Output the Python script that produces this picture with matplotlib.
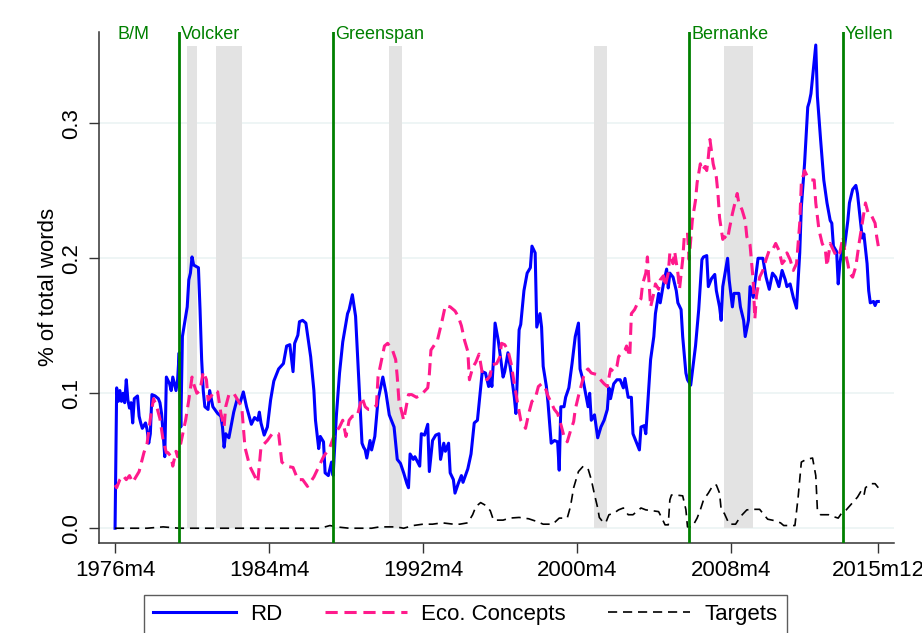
import matplotlib
matplotlib.use("Agg")
import matplotlib.pyplot as plt

plt.rcParams["font.family"] = ["Liberation Sans", "DejaVu Sans"]

# months since 1976m4
rd_t = [0, 1, 2, 3, 4, 5, 6, 7, 8, 9, 10, 11, 12, 14, 15, 16, 17, 19, 20, 21, 22, 23, 25, 27, 28, 29, 30, 31, 32, 34,
        35, 36, 38, 39, 40, 41, 42, 45, 46, 47, 48, 49, 52, 53, 54, 55, 56, 58, 59, 61, 64, 66, 67, 68, 69, 71, 74,
        76, 78, 80, 82, 85, 87, 89, 90, 91, 93, 95, 97, 99, 102, 105, 107, 109, 111, 112, 114, 115, 117, 119, 122,
        124, 125, 127, 128, 130, 131, 133, 135, 136, 138, 140, 142, 145, 146, 148, 150, 152, 154, 155, 156, 157, 159,
        160, 162, 164, 167, 169, 171, 174, 176, 178, 180, 182, 183, 184, 186, 187, 190, 191, 193, 195, 196, 198, 200,
        202, 203, 205, 206, 208, 209, 211, 212, 214, 216, 217, 220, 222, 224, 226, 229, 231, 233, 234, 235, 236, 237,
        239, 240, 242, 243, 245, 247, 249, 250, 252, 253, 255, 257, 259, 260, 262, 263, 265, 266, 267, 269, 270, 272,
        274, 276, 277, 278, 280, 281, 283, 285, 287, 289, 290, 292, 295, 296, 297, 299, 301, 303, 305, 307, 308, 309,
        311, 313, 315, 317, 318, 320, 322, 323, 325, 327, 328, 330, 331, 332, 334, 336, 337, 339, 340, 342, 344, 345,
        346, 348, 350, 351, 353, 354, 356, 357, 359, 362, 364, 366, 367, 369, 370, 372, 374, 375, 377, 378, 379, 382,
        383, 385, 386, 389, 390, 392, 393, 395, 396, 398, 399, 401, 404, 406, 408, 410, 412, 414, 416, 418, 419, 421,
        423, 425, 427, 428, 430, 432, 433, 434, 437, 438, 440, 442, 444, 446, 447, 448, 450, 451, 452, 454, 455, 457,
        458, 460, 462, 463, 465, 466, 467, 469, 470, 471, 473, 474, 475, 476]
rd_v = [0.000, 0.104, 0.094, 0.102, 0.094, 0.100, 0.093, 0.110, 0.095, 0.089, 0.093, 0.078, 0.096, 0.098, 0.083,
        0.078, 0.074, 0.078, 0.073, 0.063, 0.070, 0.099, 0.098, 0.096, 0.093, 0.085, 0.070, 0.053, 0.112, 0.107,
        0.102, 0.112, 0.102, 0.110, 0.130, 0.075, 0.142, 0.164, 0.184, 0.189, 0.201, 0.195, 0.193, 0.162, 0.125,
        0.102, 0.090, 0.088, 0.102, 0.090, 0.085, 0.083, 0.075, 0.060, 0.070, 0.067, 0.086, 0.095, 0.093, 0.101,
        0.090, 0.077, 0.082, 0.080, 0.086, 0.078, 0.069, 0.075, 0.095, 0.109, 0.118, 0.122, 0.135, 0.136, 0.116,
        0.137, 0.143, 0.153, 0.154, 0.152, 0.127, 0.102, 0.080, 0.059, 0.068, 0.064, 0.041, 0.039, 0.049, 0.039,
        0.083, 0.115, 0.138, 0.159, 0.162, 0.173, 0.157, 0.110, 0.063, 0.060, 0.058, 0.052, 0.065, 0.058, 0.068,
        0.095, 0.112, 0.100, 0.084, 0.075, 0.051, 0.048, 0.041, 0.033, 0.030, 0.055, 0.051, 0.053, 0.046, 0.070,
        0.069, 0.077, 0.042, 0.065, 0.069, 0.070, 0.051, 0.063, 0.057, 0.063, 0.041, 0.036, 0.026, 0.033, 0.039,
        0.034, 0.044, 0.055, 0.078, 0.080, 0.116, 0.115, 0.105, 0.115, 0.105, 0.125, 0.152, 0.139, 0.130, 0.112,
        0.116, 0.130, 0.115, 0.097, 0.085, 0.147, 0.151, 0.176, 0.189, 0.193, 0.209, 0.204, 0.149, 0.159, 0.149,
        0.120, 0.105, 0.093, 0.063, 0.065, 0.064, 0.043, 0.090, 0.090, 0.097, 0.104, 0.122, 0.142, 0.152, 0.118,
        0.109, 0.090, 0.100, 0.080, 0.084, 0.067, 0.075, 0.080, 0.088, 0.104, 0.096, 0.107, 0.110, 0.110, 0.104,
        0.111, 0.097, 0.097, 0.070, 0.064, 0.058, 0.075, 0.076, 0.070, 0.088, 0.125, 0.142, 0.159, 0.174, 0.167,
        0.181, 0.192, 0.178, 0.189, 0.186, 0.176, 0.167, 0.162, 0.142, 0.115, 0.110, 0.106, 0.135, 0.162, 0.199,
        0.201, 0.202, 0.179, 0.185, 0.188, 0.176, 0.164, 0.154, 0.179, 0.200, 0.184, 0.164, 0.174, 0.174, 0.164,
        0.154, 0.142, 0.154, 0.179, 0.171, 0.181, 0.200, 0.200, 0.186, 0.177, 0.189, 0.186, 0.179, 0.191, 0.184,
        0.179, 0.181, 0.171, 0.163, 0.204, 0.238, 0.270, 0.312, 0.316, 0.322, 0.358, 0.320, 0.288, 0.258, 0.241,
        0.228, 0.226, 0.209, 0.205, 0.181, 0.196, 0.211, 0.209, 0.228, 0.241, 0.251, 0.254, 0.248, 0.226, 0.215,
        0.218, 0.196, 0.176, 0.167, 0.168, 0.165, 0.168, 0.168]

eco_t = [0, 1, 3, 5, 7, 9, 11, 13, 15, 18, 20, 22, 24, 26, 28, 30, 32, 33, 35, 36, 38, 39, 41, 44, 46, 48, 49, 51, 53,
         55, 57, 58, 60, 62, 64, 66, 68, 69, 71, 74, 79, 81, 84, 89, 91, 95, 98, 102, 104, 107, 111, 114, 117, 120,
         124, 126, 130, 134, 137, 140, 142, 144, 146, 148, 151, 154, 156, 158, 160, 163, 164, 168, 170, 173, 175,
         176, 177, 180, 183, 185, 188, 191, 195, 196, 197, 201, 204, 206, 209, 212, 214, 216, 218, 220, 221, 223,
         225, 227, 229, 232, 234, 235, 238, 240, 241, 243, 245, 247, 249, 251, 253, 256, 258, 260, 262, 264, 266,
         268, 270, 272, 274, 276, 278, 280, 282, 284, 286, 287, 289, 291, 293, 295, 297, 300, 302, 305, 307, 309,
         311, 313, 314, 316, 318, 319, 321, 322, 324, 326, 328, 329, 331, 332, 334, 336, 337, 339, 340, 342, 343,
         345, 346, 348, 349, 351, 352, 354, 355, 357, 358, 360, 362, 363, 365, 366, 368, 369, 370, 371, 373, 375,
         376, 377, 379, 380, 382, 383, 385, 388, 389, 391, 393, 394, 396, 398, 399, 400, 402, 404, 406, 408, 410,
         412, 414, 416, 418, 419, 421, 423, 425, 427, 428, 430, 432, 434, 436, 437, 439, 441, 443, 444, 446, 448,
         450, 452, 454, 455, 457, 458, 460, 462, 464, 466, 468, 470, 472, 474, 475, 476]
eco_v = [0.032, 0.030, 0.036, 0.039, 0.036, 0.039, 0.034, 0.038, 0.042, 0.056, 0.063, 0.081, 0.096, 0.090, 0.081,
         0.065, 0.056, 0.056, 0.053, 0.046, 0.057, 0.053, 0.063, 0.080, 0.095, 0.112, 0.107, 0.100, 0.102, 0.116,
         0.110, 0.095, 0.098, 0.102, 0.101, 0.085, 0.075, 0.090, 0.099, 0.100, 0.090, 0.060, 0.046, 0.034, 0.060,
         0.065, 0.070, 0.070, 0.049, 0.046, 0.045, 0.036, 0.036, 0.031, 0.038, 0.043, 0.053, 0.060, 0.070, 0.075,
         0.080, 0.068, 0.080, 0.083, 0.083, 0.097, 0.090, 0.088, 0.088, 0.091, 0.112, 0.135, 0.137, 0.132, 0.125,
         0.112, 0.095, 0.080, 0.099, 0.099, 0.097, 0.099, 0.104, 0.114, 0.132, 0.139, 0.154, 0.165, 0.164, 0.161,
         0.157, 0.150, 0.139, 0.131, 0.110, 0.119, 0.123, 0.129, 0.115, 0.110, 0.113, 0.121, 0.122, 0.127, 0.137,
         0.136, 0.132, 0.122, 0.107, 0.093, 0.080, 0.074, 0.085, 0.094, 0.096, 0.105, 0.107, 0.105, 0.098, 0.093,
         0.088, 0.085, 0.077, 0.068, 0.064, 0.072, 0.079, 0.088, 0.098, 0.107, 0.116, 0.118, 0.115, 0.114, 0.111,
         0.107, 0.105, 0.118, 0.116, 0.120, 0.127, 0.130, 0.132, 0.135, 0.127, 0.159, 0.162, 0.167, 0.170, 0.181,
         0.189, 0.201, 0.164, 0.174, 0.181, 0.177, 0.184, 0.187, 0.179, 0.189, 0.204, 0.196, 0.205, 0.189, 0.177,
         0.199, 0.216, 0.219, 0.199, 0.228, 0.243, 0.256, 0.270, 0.265, 0.268, 0.265, 0.275, 0.288, 0.270, 0.260,
         0.248, 0.230, 0.214, 0.216, 0.214, 0.221, 0.233, 0.248, 0.241, 0.236, 0.228, 0.216, 0.210, 0.183, 0.155,
         0.172, 0.186, 0.191, 0.199, 0.206, 0.206, 0.211, 0.206, 0.196, 0.199, 0.204, 0.199, 0.191, 0.196, 0.226,
         0.256, 0.265, 0.260, 0.258, 0.258, 0.241, 0.221, 0.211, 0.206, 0.194, 0.211, 0.206, 0.201, 0.204, 0.216,
         0.206, 0.196, 0.189, 0.186, 0.194, 0.211, 0.226, 0.241, 0.232, 0.231, 0.226, 0.216, 0.209]

tgt_t = [0, 20, 30, 40, 60, 80, 100, 120, 128, 134, 138, 146, 160, 165, 175, 180, 186, 192, 198, 204, 211, 215, 220,
         223, 225, 228, 231, 234, 236, 242, 246, 252, 258, 263, 267, 273, 277, 282, 284, 286, 289, 292, 295, 297,
         299, 301, 302, 304, 306, 308, 311, 314, 317, 320, 323, 328, 331, 335, 339, 341, 343, 345, 346, 347, 350,
         354, 356, 357, 360, 363, 365, 367, 370, 373, 375, 377, 378, 380, 383, 387, 390, 394, 398, 402, 404, 407,
         411, 415, 417, 420, 424, 426, 428, 431, 435, 437, 438, 440, 445, 448, 451, 453, 456, 460, 463, 465, 467,
         468, 471, 474, 476]
tgt_v = [0.0, 0.0, 0.001, 0.0, 0.0, 0.0, 0.0, 0.0, 0.0, 0.002, 0.001, 0.0, 0.0, 0.001, 0.001, 0.0, 0.002, 0.003,
         0.003, 0.004, 0.003, 0.003, 0.004, 0.010, 0.016, 0.019, 0.017, 0.013, 0.006, 0.006, 0.0075, 0.008, 0.007,
         0.005, 0.003, 0.003, 0.0075, 0.0075, 0.016, 0.030, 0.042, 0.046, 0.044, 0.036, 0.025, 0.015, 0.008, 0.005,
         0.004, 0.010, 0.011, 0.0136, 0.015, 0.010, 0.010, 0.015, 0.0136, 0.013, 0.0123, 0.0075, 0.0025, 0.0025,
         0.021, 0.0246, 0.0246, 0.024, 0.0138, 0.001, 0.001, 0.0075, 0.0136, 0.021, 0.026, 0.032, 0.032, 0.026,
         0.0138, 0.0109, 0.003, 0.003, 0.0086, 0.0136, 0.014, 0.014, 0.011, 0.0067, 0.0057, 0.004, 0.002, 0.002,
         0.002, 0.023, 0.049, 0.051, 0.052, 0.039, 0.0138, 0.010, 0.010, 0.0086, 0.0075, 0.011, 0.0136, 0.019,
         0.023, 0.027, 0.024, 0.030, 0.033, 0.033, 0.030]

# NBER recessions (start, end), months since 1976m4
rec_start = [45, 63, 171, 299, 380]
rec_end = [51, 79, 179, 307, 398]
rec_top = 0.357

chairs = ["B/M", "Volcker", "Greenspan", "Bernanke", "Yellen"]
chair_t = [0, 40, 136, 358, 454]
chair_line = [False, True, True, True, True]

xtick_t = [0, 96, 192, 288, 384, 476]
xtick_lab = ["1976m4", "1984m4", "1992m4", "2000m4", "2008m4", "2015m12"]
yticks = [0.0, 0.1, 0.2, 0.3]

fig = plt.figure(figsize=(9.22, 6.33), dpi=100)
ax = fig.add_axes([0.1074, 0.1427, 0.8626, 0.8073])

for y in yticks:
    ax.axhline(y, color="#eaf2f3", lw=1.1, zorder=0)

for s, e in zip(rec_start, rec_end):
    ax.fill_between([s, e], 0, rec_top, color="#e3e3e3", lw=0, zorder=1)

l1, = ax.plot(rd_t, rd_v, color="#0000ff", lw=2.2, zorder=3)
l2, = ax.plot(eco_t, eco_v, color="#ff1a8c", lw=2.2, dashes=(4, 2.2), zorder=3)
l3, = ax.plot(tgt_t, tgt_v, color="black", lw=1.2, dashes=(5.5, 3.5), zorder=4)

for name, t, has_line in zip(chairs, chair_t, chair_line):
    if has_line:
        ax.axvline(t, color="#008000", lw=2.0, zorder=5)
    ax.annotate(name, xy=(t, 1), xycoords=("data", "axes fraction"), xytext=(2, -7.5),
                textcoords="offset pixels", color="#008000", fontsize=13, ha="left", va="baseline")

ax.set_xlim(-10, 486)
ax.set_ylim(-0.0107, 0.3679)
ax.set_xticks(xtick_t)
ax.set_xticklabels(xtick_lab)
ax.set_yticks(yticks)
ax.set_yticklabels(["%.1f" % y for y in yticks], rotation=90, va="center")
ax.tick_params(axis="both", labelsize=16, length=7.5, width=1.0, color="#333333", pad=5)
ax.set_ylabel("% of total words", fontsize=16, labelpad=1.5)

for side in ["top", "right"]:
    ax.spines[side].set_visible(False)
for side in ["left", "bottom"]:
    ax.spines[side].set_color("#333333")
    ax.spines[side].set_linewidth(1.1)

leg = fig.legend([l1, l2, l3], ["RD", "Eco. Concepts", "Targets"], loc="upper center",
                 bbox_to_anchor=(0.505, 0.06), ncol=3, fontsize=16, frameon=True, fancybox=False,
                 handlelength=3.7, handletextpad=0.65, columnspacing=1.9, borderpad=0.4,
                 borderaxespad=0)
leg.get_frame().set_edgecolor("#333333")
leg.get_frame().set_linewidth(1.0)

fig.savefig("out.png", dpi=100)
